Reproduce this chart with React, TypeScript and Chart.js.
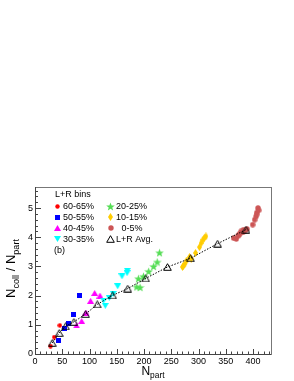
import React, { useEffect, useRef } from "react";
import { Chart, registerables } from "chart.js";
Chart.register(...registerables);

// ---- data ----
const bin6065X = [28.5, 35.3, 45.6];
const bin6065Y = [0.27, 0.58, 0.98];
const bin5055X = [43.8, 53.7, 60.9, 70.8, 81.2];
const bin5055Y = [0.45, 0.87, 1.05, 1.34, 2.0];
const bin4045X = [76.3, 85.6, 93.5, 102, 109.4, 119.2];
const bin4045Y = [0.98, 1.13, 1.42, 1.82, 2.09, 2.0];
const bin3035X = [126, 129, 136.3, 143.6, 151.7, 159.6, 168.8, 169.4];
const bin3035Y = [1.83, 1.65, 1.92, 2.06, 2.32, 2.66, 2.77, 2.85];
const bin2025X = [186.6, 192.8, 189.7, 199, 208.5, 217.6, 224.2, 228.5];
const bin2025Y = [2.30, 2.28, 2.58, 2.66, 2.83, 3.0, 3.15, 3.47];
const bin1015X = [270.6, 272.4, 275, 278.3, 283.4, 286.6, 294.5, 301.8, 305, 308, 311, 313.6];
const bin1015Y = [2.98, 3.02, 3.09, 3.2, 3.32, 3.26, 3.46, 3.66, 3.8, 3.91, 3.98, 4.03];
const bin0005X = [364.4, 369.3, 371.7, 373.4, 375.4, 378, 381.6, 382.7, 385.9, 389, 399.3, 403, 405.6, 406.5, 407.4, 409.2, 410.4];
const bin0005Y = [3.97, 3.94, 4.03, 4.07, 4.12, 4.2, 4.17, 4.26, 4.23, 4.28, 4.43, 4.6, 4.71, 4.78, 4.85, 5.0, 4.92];
const avgX = [31.6, 44.4, 56.1, 71.4, 92.9, 114.3, 142.6, 170.1, 203.1, 243.1, 285.5, 335, 387.1];
const avgY = [0.38, 0.72, 0.95, 1.10, 1.37, 1.70, 2.01, 2.24, 2.59, 2.98, 3.28, 3.78, 4.26];

const xTickLabels = [0, 50, 100, 150, 200, 250, 300, 350, 400];
const yTickLabels = [0, 1, 2, 3, 4, 5];
const legendTitle = "L+R bins";
const legendLabels = ["60-65%", "50-55%", "40-45%", "30-35%", "20-25%", "10-15%", "0-5%", "L+R Avg."];
const panelLabel = "(b)";

const FONT = "'Liberation Sans', Arial, Helvetica, sans-serif";

type Shape = "circle" | "square" | "triUp" | "triDown" | "star" | "diamond" | "openTri";

function makeMarker(shape: Shape, color: string, w: number, h?: number): HTMLCanvasElement {
  const H = h ?? w;
  const c = document.createElement("canvas");
  c.width = w;
  c.height = H;
  const ctx = c.getContext("2d")!;
  ctx.translate(w / 2, H / 2);
  ctx.fillStyle = color;
  ctx.strokeStyle = color;
  ctx.beginPath();
  const r = w / 2;
  if (shape === "circle") {
    ctx.arc(0, 0, r - 0.3, 0, Math.PI * 2);
    ctx.fill();
  } else if (shape === "square") {
    ctx.rect(-r, -H / 2, w, H);
    ctx.fill();
  } else if (shape === "triUp") {
    ctx.moveTo(0, -H / 2);
    ctx.lineTo(r, H / 2);
    ctx.lineTo(-r, H / 2);
    ctx.closePath();
    ctx.fill();
  } else if (shape === "triDown") {
    ctx.moveTo(0, H / 2);
    ctx.lineTo(r, -H / 2);
    ctx.lineTo(-r, -H / 2);
    ctx.closePath();
    ctx.fill();
  } else if (shape === "star") {
    const R = r;
    const ri = R * 0.42;
    for (let i = 0; i < 10; i++) {
      const a = -Math.PI / 2 + (i * Math.PI) / 5;
      const rr = i % 2 === 0 ? R : ri;
      const px = Math.cos(a) * rr;
      const py = Math.sin(a) * rr + R * 0.1;
      if (i === 0) ctx.moveTo(px, py);
      else ctx.lineTo(px, py);
    }
    ctx.closePath();
    ctx.fill();
  } else if (shape === "diamond") {
    ctx.moveTo(0, -H / 2);
    ctx.lineTo(r, 0);
    ctx.lineTo(0, H / 2);
    ctx.lineTo(-r, 0);
    ctx.closePath();
    ctx.fill();
  } else if (shape === "openTri") {
    ctx.lineWidth = 1;
    ctx.moveTo(0, -H / 2 + 0.7);
    ctx.lineTo(r - 0.7, H / 2 - 0.7);
    ctx.lineTo(-r + 0.7, H / 2 - 0.7);
    ctx.closePath();
    ctx.stroke();
  }
  return c;
}

function pts(xs: number[], ys: number[]) {
  return xs.map((x, i) => ({ x, y: ys[i] }));
}

function drawSubText(ctx: CanvasRenderingContext2D, parts: { t: string; sub?: boolean }[], size: number, x: number, y: number, align: "center" | "left") {
  const subSize = size * 0.7;
  let total = 0;
  for (const p of parts) {
    ctx.font = `${p.sub ? subSize : size}px ${FONT}`;
    total += ctx.measureText(p.t).width;
  }
  let cx = align === "center" ? x - total / 2 : x;
  ctx.textAlign = "left";
  ctx.textBaseline = "alphabetic";
  for (const p of parts) {
    ctx.font = `${p.sub ? subSize : size}px ${FONT}`;
    ctx.fillText(p.t, cx, y + (p.sub ? size * 0.28 : 0));
    cx += ctx.measureText(p.t).width;
  }
}

export default function App() {
  const ref = useRef<HTMLCanvasElement>(null);

  useEffect(() => {
    const m6065 = makeMarker("circle", "#ff0000", 5);
    const m5055 = makeMarker("square", "#0000ff", 5);
    const m4045 = makeMarker("triUp", "#ff00ff", 7, 6);
    const m3035 = makeMarker("triDown", "#00ffff", 7, 6);
    const m2025 = makeMarker("star", "#55dd55", 9);
    const m1015 = makeMarker("diamond", "#ffcc00", 5, 8);
    const m0005 = makeMarker("circle", "#cc5555", 6);
    const mAvg = makeMarker("openTri", "#000000", 9, 8);
    const markers = [m6065, m5055, m4045, m3035, m2025, m1015, m0005, mAvg];

    const rootPlugin = {
      id: "rootDecor",
      afterDraw(chart: any) {
        const ctx: CanvasRenderingContext2D = chart.ctx;
        const { left, right, top, bottom } = chart.chartArea;
        const xs = chart.scales.x;
        const ys = chart.scales.y;
        ctx.save();
        // frame
        ctx.strokeStyle = "#777777";
        ctx.lineWidth = 1;
        ctx.strokeRect(Math.round(left) + 0.5, Math.round(top) + 0.5, Math.round(right - left), Math.round(bottom - top));
        // ticks
        ctx.strokeStyle = "#444444";
        ctx.beginPath();
        for (let v = 0; v <= xs.max + 1e-6; v += 10) {
          const px = Math.round(xs.getPixelForValue(v)) + 0.5;
          const major = Math.abs(v % 50) < 1e-6;
          const len = major ? 5 : 2.5;
          ctx.moveTo(px, bottom);
          ctx.lineTo(px, bottom - len);
        }
        for (let k = 0; k * 0.2 <= ys.max + 1e-6; k++) {
          const v = k * 0.2;
          const py = Math.round(ys.getPixelForValue(v)) + 0.5;
          const major = k % 5 === 0;
          const len = major ? 6 : 3;
          ctx.moveTo(left, py);
          ctx.lineTo(left + len, py);
        }
        ctx.stroke();
        // axis lines darker
        ctx.beginPath();
        ctx.moveTo(Math.round(left) + 0.5, top);
        ctx.lineTo(Math.round(left) + 0.5, Math.round(bottom) + 0.5);
        ctx.lineTo(right, Math.round(bottom) + 0.5);
        ctx.stroke();

        // axis titles
        ctx.fillStyle = "#000000";
        drawSubText(ctx, [{ t: "N" }, { t: "part", sub: true }], 12, (left + right) / 2, 375, "center");
        ctx.save();
        ctx.translate(15, (top + bottom) / 2 - 2);
        ctx.rotate(-Math.PI / 2);
        drawSubText(ctx, [{ t: "N" }, { t: "coll", sub: true }, { t: " / N" }, { t: "part", sub: true }], 13, 0, 0, "center");
        ctx.restore();

        // legend
        ctx.font = `9px ${FONT}`;
        ctx.textBaseline = "middle";
        ctx.textAlign = "left";
        ctx.fillText(legendTitle, 55, 195);
        const rowsY = [206, 217, 228, 239];
        for (let i = 0; i < 8; i++) {
          const col = i < 4 ? 0 : 1;
          const row = i % 4;
          const mx = col === 0 ? 57.5 : 110.5;
          const tx = col === 0 ? 63 : 116;
          const yy = rowsY[row];
          const mk = markers[i];
          ctx.drawImage(mk, Math.round(mx - mk.width / 2), Math.round(yy - mk.height / 2));
          const label = legendLabels[i];
          ctx.fillText(label, i === 6 ? tx + 5.5 : tx, yy + 0.5);
        }
        ctx.fillText(panelLabel, 54, 251);
        ctx.restore();
      },
    };

    const chart = new Chart(ref.current!, {
      type: "scatter",
      data: {
        datasets: [
          { label: "fit", type: "line", data: pts(avgX, avgY), borderColor: "#000000", borderWidth: 1, borderDash: [1.5, 1.5], pointRadius: 0, fill: false, tension: 0, order: 2 },
          { label: "L+R Avg.", data: pts(avgX, avgY), pointStyle: mAvg, order: 1 },
          { label: "0-5%", data: pts(bin0005X, bin0005Y), pointStyle: m0005, order: 3 },
          { label: "10-15%", data: pts(bin1015X, bin1015Y), pointStyle: m1015, order: 3 },
          { label: "20-25%", data: pts(bin2025X, bin2025Y), pointStyle: m2025, order: 3 },
          { label: "30-35%", data: pts(bin3035X, bin3035Y), pointStyle: m3035, order: 3 },
          { label: "40-45%", data: pts(bin4045X, bin4045Y), pointStyle: m4045, order: 3 },
          { label: "50-55%", data: pts(bin5055X, bin5055Y), pointStyle: m5055, order: 3 },
          { label: "60-65%", data: pts(bin6065X, bin6065Y), pointStyle: m6065, order: 3 },
        ] as any,
      },
      options: {
        animation: false,
        responsive: false,
        devicePixelRatio: 1,
        layout: { padding: { left: 0, top: 187, right: 23, bottom: 0 } },
        plugins: { legend: { display: false }, tooltip: { enabled: false }, title: { display: false } },
        elements: { point: { radius: 4 } },
        scales: {
          x: {
            type: "linear",
            min: 0,
            max: 433,
            grid: { display: false, drawTicks: false, tickLength: 0 },
            border: { display: false },
            afterBuildTicks: (s: any) => { s.ticks = xTickLabels.map((v) => ({ value: v })); },
            afterFit: (s: any) => { s.height = 27; },
            ticks: { padding: 2, color: "#000000", font: { family: FONT, size: 9 }, maxRotation: 0, autoSkip: false },
          },
          y: {
            type: "linear",
            min: 0,
            max: 5.72,
            grid: { display: false, drawTicks: false, tickLength: 0 },
            border: { display: false },
            afterBuildTicks: (s: any) => { s.ticks = yTickLabels.map((v) => ({ value: v })); },
            afterFit: (s: any) => { s.width = 35; },
            ticks: { padding: 2, color: "#000000", font: { family: FONT, size: 9 } },
          },
        },
      } as any,
      plugins: [rootPlugin],
    });
    return () => chart.destroy();
  }, []);

  return (
    <div style={{ position: "absolute", left: 0, top: 0, width: 294, height: 381, background: "#ffffff" }}>
      <canvas ref={ref} width={294} height={381} style={{ display: "block" }} />
    </div>
  );
}
